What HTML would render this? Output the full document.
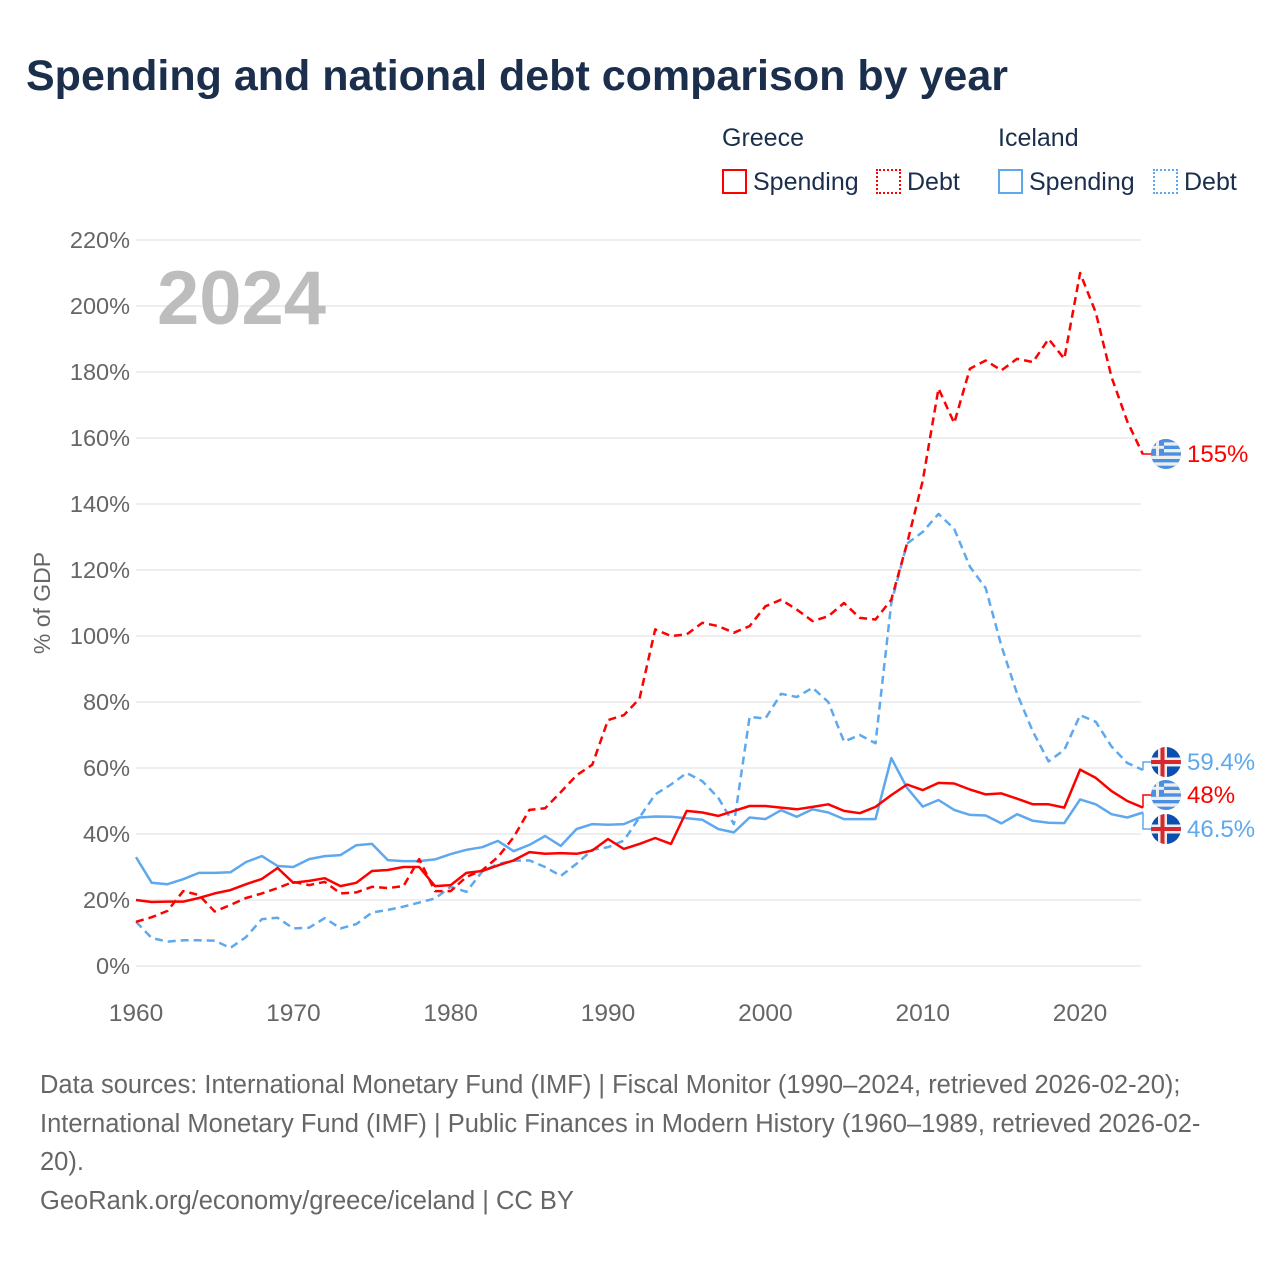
<!DOCTYPE html>
<html><head><meta charset="utf-8"><style>
body{margin:0;background:#fff;font-family:"Liberation Sans",sans-serif;}
#wrap{position:relative;width:1280px;height:1280px;overflow:hidden;}
.t{position:absolute;white-space:nowrap;}
</style></head><body>
<div id="wrap">
<div class="t" style="left:26px;top:52px;font-size:43px;font-weight:bold;color:#1b2f4d;">Spending and national debt comparison by year</div>
<div class="t" style="left:722px;top:124px;font-size:25px;color:#1b2f4d;">Greece</div>
<div class="t" style="left:998px;top:124px;font-size:25px;color:#1b2f4d;">Iceland</div>
<div class="t" style="left:722px;top:168px;font-size:25px;color:#1b2f4d;"><span style="display:inline-block;width:21px;height:21px;border:2px solid #f00;vertical-align:-4px;margin-right:6px;"></span>Spending</div>
<div class="t" style="left:876px;top:168px;font-size:25px;color:#1b2f4d;"><span style="display:inline-block;width:21px;height:21px;border:2px dotted #f00;vertical-align:-4px;margin-right:6px;"></span>Debt</div>
<div class="t" style="left:998px;top:168px;font-size:25px;color:#1b2f4d;"><span style="display:inline-block;width:21px;height:21px;border:2px solid #5ea8ee;vertical-align:-4px;margin-right:6px;"></span>Spending</div>
<div class="t" style="left:1153px;top:168px;font-size:25px;color:#1b2f4d;"><span style="display:inline-block;width:21px;height:21px;border:2px dotted #5ea8ee;vertical-align:-4px;margin-right:6px;"></span>Debt</div>
<svg id="chart" width="1280" height="1280" style="position:absolute;left:0;top:0;" xmlns="http://www.w3.org/2000/svg"></svg>
<div class="t" style="left:40px;top:1066px;font-size:25.5px;line-height:38.7px;color:#666;">Data sources: International Monetary Fund (IMF) | Fiscal Monitor (1990–2024, retrieved 2026-02-20);<br>International Monetary Fund (IMF) | Public Finances in Modern History (1960–1989, retrieved 2026-02-<br>20).<br>GeoRank.org/economy/greece/iceland | CC BY</div>
</div>
<script>
const years = [];
for (let y = 1960; y <= 2024; y++) years.push(y);
const greeceSpending = [20,19.4,19.5,19.5,20.6,22,23,24.8,26.4,29.7,25.2,25.8,26.6,24.2,25.2,28.8,29.1,30,30,24.2,24.5,28.2,28.8,30.5,32,34.5,34,34.2,34,35,38.5,35.5,37,38.8,37,47,46.5,45.5,47,48.5,48.5,48,47.5,48.2,49,47,46.3,48.2,51.8,55,53.3,55.5,55.3,53.5,52,52.3,50.7,49,49,48,59.5,57,53,50,48];
const greeceDebt = [13.4,14.8,16.7,22.7,21.5,16.5,18.5,20.6,22,23.6,25.5,24.5,25.5,22,22.3,24,23.6,24.2,32.4,22.7,22.7,27,29,33,39,47.3,47.8,52.7,57.8,61,74.5,76,81,102,100,100.5,104,103,101,103,109,111,108,104.5,106,110,105.5,105,111,128,147,175,164.5,181,183.5,180.5,184,183,190,184,210,198,178.5,165,155];
const icelandSpending = [33,25.2,24.8,26.3,28.2,28.2,28.4,31.5,33.3,30.3,30,32.4,33.3,33.6,36.6,37,32.1,31.8,31.8,32.3,33.9,35.2,36,37.9,34.8,36.7,39.4,36.4,41.5,43,42.8,43,45,45.3,45.2,44.8,44.3,41.5,40.5,45,44.5,47.2,45.2,47.5,46.5,44.5,44.5,44.5,63,54,48.3,50.3,47.3,45.8,45.6,43.2,46,44,43.4,43.3,50.5,49,46,45,46.5];
const icelandDebt = [13.4,8.5,7.4,7.8,7.8,7.7,5.5,8.8,14.2,14.6,11.4,11.6,14.5,11.4,12.7,16.2,17,18,19.2,20.5,24,22.5,28.6,30.9,31.9,32,30,27.3,31,35.2,36,38,45,52,55,58.5,56,51,43,75.5,75,82.5,81.5,84.3,80,68,70,67.5,110,128,131.5,137,132.5,121,114.5,97,82.5,71,62,65.5,76,74,66.5,61.5,59.4];
const yTicks = [0,20,40,60,80,100,120,140,160,180,200,220];
const xTicks = [1960,1970,1980,1990,2000,2010,2020];
const endLabels = ["155%","59.4%","48%","46.5%"];

const NS = "http://www.w3.org/2000/svg";
const svg = document.getElementById('chart');
const X0 = 136, X1 = 1143, Y0 = 966, Y1 = 240;
const xs = y => X0 + (y - 1960) * (X1 - X0) / (2024 - 1960);
const ys = v => Y0 - v * (Y0 - Y1) / 220;
function mk(tag, attrs) { const e = document.createElementNS(NS, tag); for (const k in attrs) e.setAttribute(k, attrs[k]); svg.appendChild(e); return e; }

yTicks.forEach(t => {
  const g = mk('line', {x1: X0, x2: 1141, y1: ys(t), y2: ys(t), stroke: '#e8e8e8', 'stroke-width': 1.5});
  
  
  const l = mk('text', {x: 130, y: ys(t) + 8, 'text-anchor': 'end', 'font-size': 23.5, fill: '#666', 'font-family': 'Liberation Sans, sans-serif'});
  l.textContent = t + '%';
  
  
});
xTicks.forEach(t => {
  const l = mk('text', {x: xs(t), y: 1021, 'text-anchor': 'middle', 'font-size': 24.5, fill: '#666', 'font-family': 'Liberation Sans, sans-serif'});
  l.textContent = t;
  
  
});
const yt = mk('text', {x: 50, y: 603, transform: 'rotate(-90 50 603)', 'text-anchor': 'middle', 'font-size': 23, fill: '#666', 'font-family': 'Liberation Sans, sans-serif'});
yt.textContent = '% of GDP';


const yr = mk('text', {x: 157, y: 324, 'font-size': 76, 'font-weight': 'bold', fill: '#bdbdbd', 'font-family': 'Liberation Sans, sans-serif'});
yr.textContent = '2024';



function series(vals, color, dash, name) {
  const d = vals.map((v, i) => (i ? 'L' : 'M') + xs(years[i]).toFixed(1) + ' ' + ys(v).toFixed(1)).join(' ');
  const p = mk('path', {d: d, fill: 'none', stroke: color, 'stroke-width': 2.5, 'stroke-dasharray': dash, 'stroke-linejoin': 'round'});
  
  
}
series(icelandSpending, '#5ea8ee', 'none', 'line-iceland-spending');
series(icelandDebt, '#5ea8ee', '8 5', 'line-iceland-debt');
series(greeceSpending, '#f00', 'none', 'line-greece-spending');
series(greeceDebt, '#f00', '8 5', 'line-greece-debt');

const last = years.length - 1;
const ends = [
  {v: greeceDebt[last], y: 454, c: '#f00', flag: 'gr', lbl: endLabels[0], n: 'end-label-greece-debt'},
  {v: icelandDebt[last], y: 762, c: '#5ea8ee', flag: 'is', lbl: endLabels[1], n: 'end-label-iceland-debt'},
  {v: greeceSpending[last], y: 795, c: '#f00', flag: 'gr', lbl: endLabels[2], n: 'end-label-greece-spending'},
  {v: icelandSpending[last], y: 829, c: '#5ea8ee', flag: 'is', lbl: endLabels[3], n: 'end-label-iceland-spending'}
];
ends.forEach(e => {
  const x = xs(2024);
  const c = mk('path', {d: `M${x} ${ys(e.v)} L${x} ${e.y} L1152 ${e.y}`, fill: 'none', stroke: e.c, 'stroke-width': 1.5});
  
  
  const cx = 1166, cy = e.y, r = 15;
  const clipId = 'c' + e.y;
  const cp = mk('clipPath', {id: clipId});
  const cc = document.createElementNS(NS, 'circle'); cc.setAttribute('cx', cx); cc.setAttribute('cy', cy); cc.setAttribute('r', r); cp.appendChild(cc);
  const g = mk('g', {'clip-path': `url(#${clipId})`});
  
  
  function r2(x, y, w, h, f) { const q = document.createElementNS(NS, 'rect'); q.setAttribute('x', x); q.setAttribute('y', y); q.setAttribute('width', w); q.setAttribute('height', h); q.setAttribute('fill', f); g.appendChild(q); }
  if (e.flag === 'gr') {
    r2(cx - r, cy - r, 30, 30, '#4a8fe0');
    for (let i = 1; i < 9; i += 2) r2(cx - r, cy - r + i * 30 / 9, 30, 30 / 9, '#eee');
    r2(cx - r, cy - r, 13, 16.7, '#4a8fe0');
    r2(cx - r + 5, cy - r, 3, 16.7, '#eee');
    r2(cx - r, cy - r + 6.8, 13, 3, '#eee');
  } else {
    r2(cx - r, cy - r, 30, 30, '#0b4fb0');
    r2(cx - r + 7, cy - r, 9, 30, '#eee');
    r2(cx - r, cy - 4.5, 30, 9, '#eee');
    r2(cx - r + 9.5, cy - r, 4, 30, '#d72830');
    r2(cx - r, cy - 2, 30, 4, '#d72830');
  }
  const t = mk('text', {x: 1187, y: e.y + 8, 'font-size': 24, fill: e.c, 'font-family': 'Liberation Sans, sans-serif'});
  t.textContent = e.lbl;
  
  
});
</script>
</body></html>
